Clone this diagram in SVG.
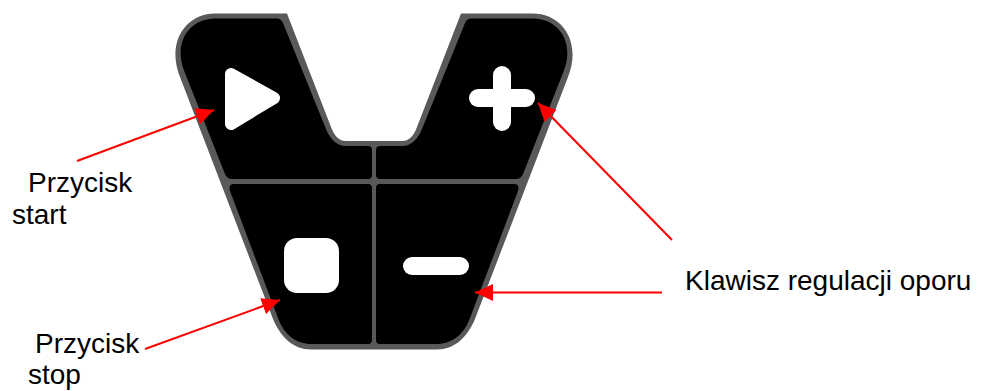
<svg xmlns="http://www.w3.org/2000/svg" width="984" height="391" viewBox="0 0 984 391">
<style>
.lbl{font-family:"Liberation Sans",Arial,sans-serif;font-size:28px;fill:#000}
.panel{fill:#000}
.ico{fill:#fff}
.arr{stroke:#f00;stroke-width:2;fill:none;marker-end:url(#ah)}
</style>
<defs>
<marker id="ah" markerUnits="userSpaceOnUse" markerWidth="18" markerHeight="17" refX="18" refY="8.500" orient="auto"><path d="M0 0L18 8.500L0 17Z" fill="#f00"/></marker>
</defs>
<rect width="984" height="391" fill="#fff"/>
<g id="body">
<path d="M215 13.500H287L331 127Q336 141 346 141H402Q412 141 417 127L461 13.500H533C562 13.500 582 42 568 77L475 319C467 338 454 349.500 437 349.500H311C294 349.500 281 338 273 319L180 77C166 42 186 13.500 215 13.500Z" fill="#58595b"/>
</g>
<g id="btn-start">
<path class="panel" d="M215 18.500H277Q281 18.500 283 23L326 129Q333 146 346 146H368Q372 146 372 150V175Q372 179 368 179H232Q227 179 225 174L185 73C172 42 190 18.500 215 18.500Z"/>
<polygon class="ico" points="231,74 274,98 231,124" stroke="#fff" stroke-width="12" stroke-linejoin="round"/>
</g>
<g id="btn-plus">
<path class="panel" d="M533 18.500H471Q467 18.500 465 23L422 129Q415 146 402 146H380Q376 146 376 150V175Q376 179 380 179H516Q521 179 523 174L563 73C576 42 558 18.500 533 18.500Z"/>
<rect class="ico" x="469" y="89" width="66" height="18" rx="9"/>
<rect class="ico" x="493" y="66" width="18" height="65" rx="9"/>
</g>
<g id="btn-stop">
<path class="panel" d="M234 184H368Q372 184 372 188V340Q372 344 368 344H311C297 344 284 335 278 318L230 191Q228 184 234 184Z"/>
<rect class="ico" x="284" y="238" width="55" height="55" rx="13"/>
</g>
<g id="btn-minus">
<path class="panel" d="M514 184H380Q376 184 376 188V340Q376 344 380 344H437C451 344 464 335 470 318L518 191Q520 184 514 184Z"/>
<rect class="ico" x="403" y="257" width="66" height="18" rx="9"/>
</g>
<g id="connectors">
<line class="arr" x1="77" y1="161" x2="214" y2="110"/>
<line class="arr" x1="145" y1="349" x2="280" y2="300"/>
<line class="arr" x1="672" y1="240" x2="538" y2="103"/>
<line class="arr" x1="662" y1="292.500" x2="475" y2="292.500"/>
</g>
<g id="labels">
<text class="lbl" x="28" y="192">Przycisk</text>
<text class="lbl" x="12" y="224">start</text>
<text class="lbl" x="35" y="353">Przycisk</text>
<text class="lbl" x="28" y="384">stop</text>
<text class="lbl" x="685" y="289.500">Klawisz regulacji oporu</text>
</g>
</svg>
